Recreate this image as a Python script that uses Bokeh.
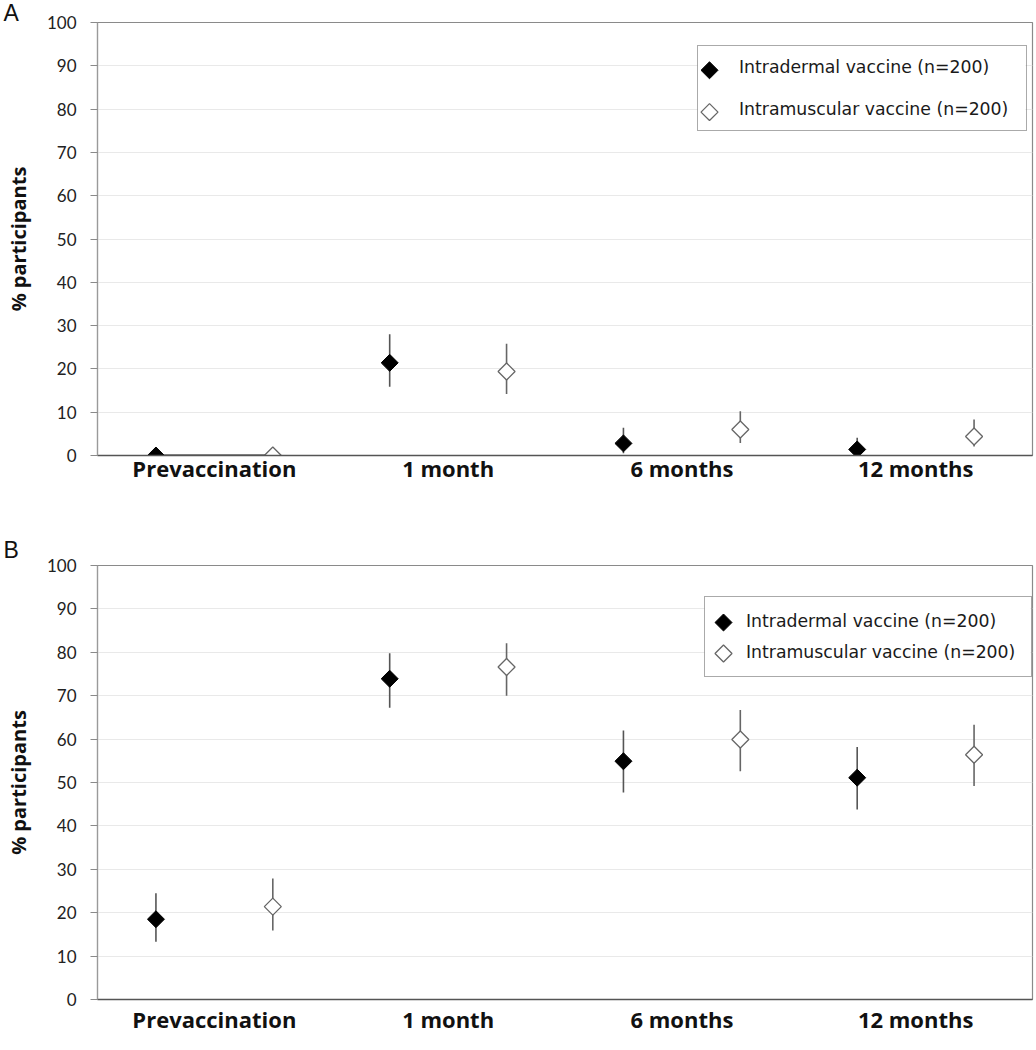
import math
from bokeh.plotting import figure
from bokeh.models import (FactorRange, Range1d, Legend, LegendItem,
                          ColumnDataSource, FixedTicker)
from bokeh.transform import dodge
from bokeh.layouts import column
from bokeh.embed import file_html
from bokeh.resources import INLINE

categories = ["Prevaccination", "1 month", "6 months", "12 months"]
y_ticks = [0, 10, 20, 30, 40, 50, 60, 70, 80, 90, 100]
label_id = "Intradermal vaccine (n=200)"
label_im = "Intramuscular vaccine (n=200)"
y_label = "% participants"

# Panel A
a_id_mean = [0.0, 21.4, 2.8, 1.4]
a_id_low = [0.0, 15.9, 0.5, 0.0]
a_id_high = [0.0, 28.0, 6.4, 4.1]
a_im_mean = [0.0, 19.4, 6.0, 4.4]
a_im_low = [0.0, 14.2, 2.9, 2.1]
a_im_high = [0.0, 25.8, 10.2, 8.3]

# Panel B
b_id_mean = [18.5, 73.9, 54.9, 51.1]
b_id_low = [13.3, 67.2, 47.7, 43.8]
b_id_high = [24.5, 79.8, 62.0, 58.2]
b_im_mean = [21.4, 76.6, 59.9, 56.4]
b_im_low = [15.9, 70.0, 52.6, 49.2]
b_im_high = [27.9, 82.1, 66.7, 63.3]

OFF = 0.25
FIG_W = 1034
BORDER_L = 97
BORDER_R = 2
FRAME_W = FIG_W - BORDER_L - BORDER_R
CAT_W = FRAME_W / len(categories)
GLYPH_W = 30
ROW_H = 30


def make_panel(letter, idm, idl, idh, imm, iml, imh, height, top, frame_h,
               leg_box, leg_pad, leg_spacing, leg_standoff, leg_label_w,
               key_rows, key_x, std_bottom, title_standoff,
               join_prevacc=False):
    bottom = height - top - frame_h
    ppu = frame_h / 100.0

    p = figure(width=FIG_W, height=height,
               x_range=FactorRange(*categories), y_range=Range1d(0, 100),
               output_backend="svg", toolbar_location=None,
               min_border_left=BORDER_L, min_border_right=BORDER_R,
               min_border_top=top, min_border_bottom=bottom)
    p.x_range.range_padding = 0
    p.background_fill_color = "white"
    p.border_fill_color = "white"
    p.outline_line_color = "#8a8a8a"
    p.outline_line_width = 1.2

    # panel letter
    p.title.text = letter
    p.title.align = "left"
    p.title.offset = -94
    p.title.standoff = title_standoff
    p.title.text_font = "Liberation Sans"
    p.title.text_font_style = "normal"
    p.title.text_font_size = "23px"
    p.title.text_color = "#111111"

    p.xgrid.grid_line_color = None
    p.ygrid.grid_line_color = "#e9e9e9"
    p.ygrid.grid_line_width = 1
    p.yaxis.ticker = FixedTicker(ticks=y_ticks)

    p.yaxis.axis_line_color = "#9a9a9a"
    p.yaxis.axis_line_width = 1.2
    p.yaxis.major_tick_line_color = "#8a8a8a"
    p.yaxis.major_tick_out = 7
    p.yaxis.major_tick_in = 0
    p.yaxis.minor_tick_line_color = None
    p.yaxis.major_label_text_font = "Lato"
    p.yaxis.major_label_text_font_size = "17px"
    p.yaxis.major_label_text_color = "#222222"
    p.yaxis.major_label_standoff = 14
    p.yaxis.axis_label = y_label
    p.yaxis.axis_label_text_font = "Open Sans"
    p.yaxis.axis_label_text_font_style = "bold"
    p.yaxis.axis_label_text_font_size = "20px"
    p.yaxis.axis_label_text_color = "#111111"
    p.yaxis.axis_label_standoff = 12

    p.xaxis.axis_line_color = "#555555"
    p.xaxis.axis_line_width = 1.5
    p.xaxis.major_tick_line_color = None
    p.xaxis.minor_tick_line_color = None
    p.xaxis.major_label_text_font = "Open Sans"
    p.xaxis.major_label_text_font_style = "bold"
    p.xaxis.major_label_text_font_size = "22px"
    p.xaxis.major_label_text_color = "#111111"
    p.xaxis.major_label_standoff = std_bottom

    src = ColumnDataSource(dict(cat=categories, idm=idm, idl=idl, idh=idh,
                                imm=imm, iml=iml, imh=imh))

    if join_prevacc:
        js = ColumnDataSource(dict(cat=[categories[0]], a=[idm[0]], b=[imm[0]]))
        p.segment(x0=dodge("cat", -OFF, range=p.x_range), y0="a",
                  x1=dodge("cat", OFF, range=p.x_range), y1="b",
                  source=js, line_color="#1a1a1a", line_width=2.2)

    p.segment(x0=dodge("cat", -OFF, range=p.x_range), y0="idl",
              x1=dodge("cat", -OFF, range=p.x_range), y1="idh",
              source=src, line_color="#555555", line_width=1.6)
    p.segment(x0=dodge("cat", OFF, range=p.x_range), y0="iml",
              x1=dodge("cat", OFF, range=p.x_range), y1="imh",
              source=src, line_color="#666666", line_width=1.6)

    id_style = dict(marker="square", size=12, angle=math.pi / 4,
                    fill_color="black", line_color="black", line_width=1)
    im_style = dict(marker="square", size=12, angle=math.pi / 4,
                    fill_color="white", line_color="#666666", line_width=1.3)
    p.scatter(x=dodge("cat", -OFF, range=p.x_range), y="idm",
              source=src, **id_style)
    p.scatter(x=dodge("cat", OFF, range=p.x_range), y="imm",
              source=src, **im_style)

    # legend geometry (page pixels of this panel -> slot offsets / data y)
    slot = 2
    lx, ly = leg_box
    box_w = 2 * leg_pad + GLYPH_W + leg_standoff + leg_label_w
    box_h = 2 * leg_pad + 2 * ROW_H + leg_spacing

    def off(px):
        return (px - BORDER_L) / CAT_W - (slot + 0.5)

    def dy(py):
        return (top + frame_h - py) / ppu

    # white backing for the legend box (hides the grid behind it)
    bg = ColumnDataSource(dict(cat=[categories[slot]], t=[dy(ly - box_h)],
                               b=[dy(ly)]))
    p.quad(left=dodge("cat", off(lx), range=p.x_range),
           right=dodge("cat", off(lx + box_w), range=p.x_range),
           top="t", bottom="b", source=bg, fill_color="white",
           line_color=None)

    # legend keys as rotated squares
    ks_id = ColumnDataSource(dict(cat=[categories[slot]], y=[dy(key_rows[0])]))
    ks_im = ColumnDataSource(dict(cat=[categories[slot]], y=[dy(key_rows[1])]))
    p.scatter(x=dodge("cat", off(key_x), range=p.x_range), y="y",
              source=ks_id, **id_style)
    p.scatter(x=dodge("cat", off(key_x), range=p.x_range), y="y",
              source=ks_im, **im_style)

    k_id = p.scatter(x="x", y="y", source=ColumnDataSource(dict(x=[], y=[])),
                     marker="square", fill_alpha=0, line_alpha=0)
    k_im = p.scatter(x="x", y="y", source=ColumnDataSource(dict(x=[], y=[])),
                     marker="square", fill_alpha=0, line_alpha=0)
    legend = Legend(items=[LegendItem(label=label_id, renderers=[k_id]),
                           LegendItem(label=label_im, renderers=[k_im])],
                    location=(lx - BORDER_L, top + frame_h - ly),
                    padding=leg_pad, spacing=leg_spacing,
                    margin=0, glyph_width=GLYPH_W, glyph_height=ROW_H,
                    label_height=ROW_H, label_standoff=leg_standoff,
                    label_width=leg_label_w,
                    label_text_font="DejaVu Sans",
                    label_text_font_size="17.3px",
                    label_text_color="#1a1a1a",
                    border_line_color="#555555", border_line_width=1.2,
                    background_fill_alpha=0.0)
    p.add_layout(legend)
    return p


pA = make_panel("A", a_id_mean, a_id_low, a_id_high, a_im_mean, a_im_low,
                a_im_high, height=513, top=20, frame_h=435,
                leg_box=(697, 131), leg_pad=6, leg_spacing=12,
                leg_standoff=5, leg_label_w=281,
                key_rows=(68, 110), key_x=709, std_bottom=-9,
                title_standoff=-6, join_prevacc=True)
pB = make_panel("B", b_id_mean, b_id_low, b_id_high, b_im_mean, b_im_low,
                b_im_high, height=537, top=52, frame_h=434,
                leg_box=(704, 677 - 513), leg_pad=9, leg_spacing=1,
                leg_standoff=2, leg_label_w=276,
                key_rows=(622 - 513, 653 - 513), key_x=723, std_bottom=-2,
                title_standoff=5)

layout = column(pA, pB, spacing=0)
open("out.html", "w").write(file_html(layout, INLINE))
